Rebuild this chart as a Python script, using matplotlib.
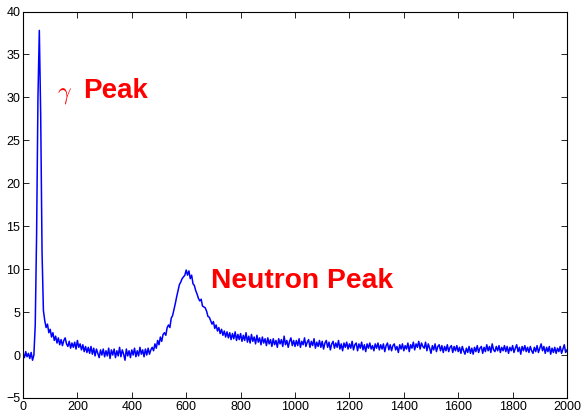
import numpy as np
import matplotlib
matplotlib.use("Agg")
import matplotlib.pyplot as plt

# channel axis (every 5th channel)
channel_step = 5
channels = np.arange(0, 2001, channel_step)

# counts, 10 values per row (= 50 channels)
counts = [
    0.2, -0.3, 0.4, -0.2, 0.2, -0.4, 0.3, -0.6, 0.0, 3.5,
    14.0, 30.0, 37.8, 28.0, 12.0, 5.2, 4.0, 3.2, 3.6, 2.6,
    3.0, 2.1, 2.6, 1.7, 2.2, 1.4, 2.0, 1.2, 1.8, 1.1,
    1.7, 2.0, 1.3, 1.0, 1.6, 0.8, 1.4, 0.9, 1.5, 0.7,
    1.7, 0.9, 1.3, 0.6, 1.2, 0.4, 1.0, 0.3, 0.9, 0.2,
    1.0, 0.1, 0.8, -0.1, 0.7, 0.2, -0.3, 0.6, 0.0, 0.7,
    -0.2, 0.5, -0.1, 0.8, -0.4, 0.6, 0.0, 0.7, -0.3, 0.5,
    -0.1, 0.9, -0.2, 0.6, 0.1, -0.6, 0.7, -0.1, 0.5, -0.3,
    0.6, 0.0, 0.8, -0.2, 0.5, -0.1, 0.9, 0.1, 0.6, -0.2,
    0.7, 0.0, 0.8, 0.1, 0.6, 0.9, 0.5, 1.3, 0.8, 1.7,
    1.2, 2.1, 1.6, 2.4, 2.6, 2.3, 3.2, 3.5, 3.2, 4.3,
    4.6, 5.3, 6.0, 6.8, 7.5, 8.2, 8.5, 8.9, 9.1, 9.3,
    9.9, 9.3, 9.8, 8.9, 9.3, 8.3, 8.1, 7.5, 7.1, 6.6,
    6.3, 6.5, 5.7, 5.6, 5.5, 5.1, 4.5, 4.4, 4.0, 3.6,
    3.9, 3.1, 3.5, 2.8, 3.2, 2.5, 3.0, 2.3, 2.8, 2.1,
    2.7, 2.0, 2.6, 1.8, 2.5, 1.9, 2.7, 1.7, 2.4, 1.8,
    2.5, 1.6, 2.3, 1.7, 2.6, 1.5, 2.2, 1.4, 2.4, 1.6,
    2.1, 1.3, 2.3, 1.5, 2.0, 1.2, 2.1, 1.4, 1.9, 1.1,
    2.0, 1.3, 1.8, 1.0, 1.9, 1.2, 1.7, 0.9, 1.9, 1.3,
    1.8, 1.0, 2.2, 1.2, 1.7, 0.9, 1.6, 2.0, 1.1, 1.7,
    1.0, 1.7, 1.1, 1.9, 0.9, 1.6, 1.2, 2.0, 1.0, 1.5,
    1.8, 0.9, 1.6, 1.1, 1.9, 0.8, 1.5, 1.0, 1.7, 0.9,
    1.6, 0.7, 1.4, 1.7, 0.9, 1.5, 0.6, 1.3, 1.6, 0.8,
    1.4, 0.9, 1.7, 0.7, 1.3, 0.5, 1.4, 0.9, 1.5, 0.7,
    1.3, 0.8, 1.6, 0.6, 1.2, 1.4, 0.5, 1.3, 0.8, 1.5,
    0.6, 1.2, 0.4, 1.3, 0.8, 1.4, 0.7, 1.1, 0.5, 1.3,
    0.8, 1.4, 0.6, 1.2, 0.7, 1.3, 0.4, 1.1, 1.4, 0.6,
    1.2, 0.5, 1.1, 1.3, 0.6, 1.0, 0.3, 1.2, 0.7, 1.3,
    0.5, 1.1, 0.7, 1.4, 0.4, 1.2, 0.8, 1.5, 0.6, 1.3,
    0.9, 1.6, 0.7, 1.4, 1.0, 0.8, 1.5, 0.5, 1.3, 0.8,
    0.2, 1.1, 0.6, 1.3, 0.4, 1.0, 1.2, 0.5, 1.1, 0.3,
    1.0, 0.5, 1.2, 0.4, 0.9, 1.1, 0.3, 1.0, 0.5, 1.1,
    0.4, 0.9, 0.2, 1.0, 0.5, 0.1, 0.8, 0.3, 1.0, 0.2,
    0.8, 0.1, 0.9, 0.4, 1.1, 0.3, 0.8, 1.0, 0.2, 0.9,
    0.4, 1.2, 0.5, 1.0, 0.3, 1.3, 0.6, 0.4, 1.0, 0.5,
    1.1, 0.3, 0.9, 0.5, 1.1, 0.4, 1.0, 0.2, 0.9, 0.5,
    1.1, 0.3, 0.8, 1.2, 0.4, 0.9, 0.1, 1.0, 0.5, 1.1,
    0.4, 0.9, 0.3, 1.0, 0.5, 0.2, 0.9, 0.4, 1.1, 0.3,
    0.8, 1.3, 0.5, 1.0, 0.2, 0.9, 0.4, 1.0, 0.1, 0.8,
    0.3, 0.9, 0.2, 0.8, 0.4, 1.0, 0.2, 0.7, 1.2, 0.3,
    0.6,
]

x_ticks = list(range(0, 2001, 200))
y_ticks = list(range(-5, 41, 5))

gamma_label = (125, 29.9)
neutron_label = (690, 7.8)

plt.rcParams['font.family'] = ['Liberation Sans', 'DejaVu Sans']
plt.rcParams['mathtext.fontset'] = 'cm'

fig = plt.figure(figsize=(5.83, 4.13), dpi=100)
ax = fig.add_axes([23 / 583, 1 - 398 / 413, 544 / 583, 386.5 / 413])

ax.plot(channels, counts, color='#0000ff', linewidth=1.1)

ax.set_xlim(0, 2000)
ax.set_ylim(-5, 40)
ax.set_xticks(x_ticks)
ax.set_yticks(y_ticks)
ax.tick_params(direction='in', top=True, right=True, labelsize=9,
               length=4, width=0.6, pad=2)
for s in ax.spines.values():
    s.set_linewidth(0.8)

# annotations
ax.text(gamma_label[0], gamma_label[1], r'$\gamma$', color='red',
        fontsize=17, va='baseline', ha='left')
ax.text(gamma_label[0] + 97, gamma_label[1], 'Peak', color='red',
        fontsize=20, fontweight='bold', va='baseline', ha='left')
ax.text(neutron_label[0], neutron_label[1], 'Neutron Peak', color='red',
        fontsize=20.3, fontweight='bold', va='baseline', ha='left')

fig.savefig('out.png', dpi=100)
